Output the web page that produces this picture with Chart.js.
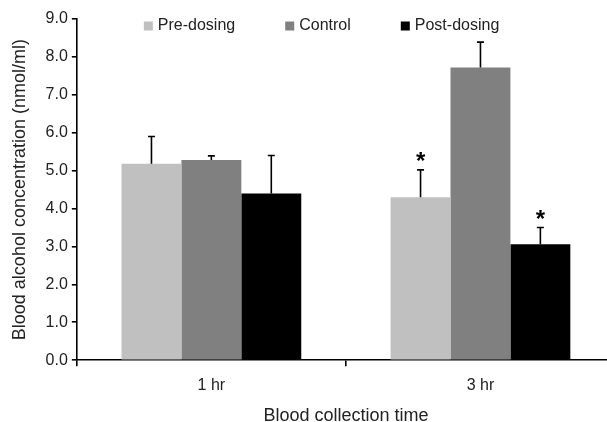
<!DOCTYPE html>
<html>
<head>
<meta charset="utf-8">
<script src="https://cdn.jsdelivr.net/npm/chart.js@4"></script>
<style>
html, body { margin: 0; padding: 0; background: #fff; overflow: hidden; }
#wrap { width: 607px; height: 422px; overflow: hidden; }
</style>
</head>
<body>
<div id="wrap"><canvas id="myChart" width="630" height="431"></canvas></div>
<script>
const categories = ['1 hr', '3 hr'];
const seriesNames = ['Pre-dosing', 'Control', 'Post-dosing'];
const preDosing = [5.18, 4.30];
const control = [5.28, 7.72];
const postDosing = [4.40, 3.06];
const preDosingErr = [0.72, 0.72];
const controlErr = [0.11, 0.67];
const postDosingErr = [1.00, 0.44];
// true = significant, gets a star above the error bar
const preDosingStar = [false, true];
const controlStar = [false, false];
const postDosingStar = [false, true];

const FONT = 'Arial, "Liberation Sans", Helvetica, sans-serif';
const TEXT = '#222';

// error bars + stars
const errorBars = {
    id: 'errorBars',
    afterDatasetsDraw(chart) {
        const ctx = chart.ctx;
        const y = chart.scales.y;
        ctx.save();
        ctx.strokeStyle = '#000';
        ctx.lineWidth = 1.6;
        chart.data.datasets.forEach((ds, i) => {
            chart.getDatasetMeta(i).data.forEach((bar, j) => {
                const top = y.getPixelForValue(ds.data[j] + ds.errors[j]);
                ctx.beginPath();
                ctx.moveTo(bar.x, bar.y);
                ctx.lineTo(bar.x, top);
                ctx.moveTo(bar.x - 3.5, top);
                ctx.lineTo(bar.x + 3.5, top);
                ctx.stroke();
                if (ds.stars[j]) {
                    ctx.fillStyle = '#000';
                    ctx.font = 'bold 24px ' + FONT;
                    ctx.textAlign = 'center';
                    ctx.textBaseline = 'alphabetic';
                    ctx.fillText('*', bar.x, top - 1);
                }
            });
        });
        ctx.restore();
    }
};

// legend drawn inside the plot, near the top
const topLegend = {
    id: 'topLegend',
    afterDraw(chart) {
        const ctx = chart.ctx;
        ctx.save();
        ctx.font = '16px ' + FONT;
        ctx.textBaseline = 'middle';
        ctx.textAlign = 'left';
        let x = chart.chartArea.left + 67;
        const yc = chart.chartArea.top + 7;
        chart.data.datasets.forEach((ds) => {
            ctx.fillStyle = ds.backgroundColor;
            ctx.fillRect(x, yc - 4.5, 9, 9);
            ctx.fillStyle = TEXT;
            ctx.fillText(ds.label, x + 14, yc);
            x += 14 + ctx.measureText(ds.label).width + 50;
        });
        ctx.restore();
    }
};

new Chart(document.getElementById('myChart'), {
    type: 'bar',
    data: {
        labels: categories,
        datasets: [
            { label: seriesNames[0], data: preDosing, errors: preDosingErr, stars: preDosingStar, backgroundColor: '#c0c0c0' },
            { label: seriesNames[1], data: control, errors: controlErr, stars: controlStar, backgroundColor: '#808080' },
            { label: seriesNames[2], data: postDosing, errors: postDosingErr, stars: postDosingStar, backgroundColor: '#000000' }
        ]
    },
    plugins: [errorBars, topLegend],
    options: {
        responsive: false,
        animation: false,
        barPercentage: 1,
        categoryPercentage: 0.668,
        layout: { padding: { top: 19, left: 8, right: 15, bottom: 1 } },
        plugins: {
            legend: { display: false },
            tooltip: { enabled: false }
        },
        scales: {
            x: {
                border: { color: '#000', width: 1.6 },
                grid: { drawOnChartArea: false, color: '#000', lineWidth: 1.6, tickLength: 6, offset: true },
                ticks: { color: TEXT, font: { family: FONT, size: 16 }, padding: 10 },
                title: {
                    display: true,
                    text: 'Blood collection time',
                    color: TEXT,
                    font: { family: FONT, size: 18 },
                    padding: { top: 0, bottom: 3 }
                }
            },
            y: {
                min: 0,
                max: 9,
                border: { color: '#000', width: 1.6 },
                grid: { drawOnChartArea: false, color: '#000', lineWidth: 1.6, tickLength: 5 },
                ticks: {
                    stepSize: 1,
                    color: TEXT,
                    font: { family: FONT, size: 16 },
                    padding: 4,
                    callback: (v) => v.toFixed(1)
                },
                title: {
                    display: true,
                    text: 'Blood alcohol concentration (nmol/ml)',
                    color: TEXT,
                    font: { family: FONT, size: 18 },
                    padding: { top: 1, bottom: 11 }
                }
            }
        }
    }
});
</script>
</body>
</html>
